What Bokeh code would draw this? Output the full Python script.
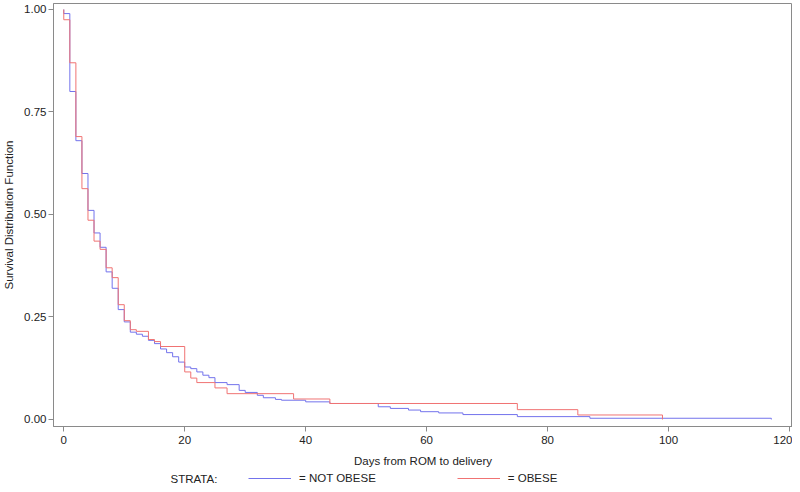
from bokeh.plotting import figure
from bokeh.layouts import column
from bokeh.models import Range1d, Legend, LegendItem, FixedTicker, PrintfTickFormatter, Label
from bokeh.embed import file_html
from bokeh.resources import INLINE

# Kaplan-Meier estimates
not_obese_days = [0, 0, 1, 2, 3, 4, 5, 6, 7, 8, 9, 10, 11, 12, 13, 14, 15, 16, 17, 18, 19,
                  20, 21, 22, 23, 24, 25, 27, 29, 30, 32, 33, 35, 36, 40, 44, 52, 54, 57,
                  59, 62, 66, 75, 87, 117]
not_obese_surv = [1.0, 0.99, 0.80, 0.68, 0.60, 0.51, 0.455, 0.42, 0.36, 0.32, 0.268, 0.238,
                  0.213, 0.208, 0.203, 0.193, 0.185, 0.172, 0.163, 0.153, 0.14,
                  0.128, 0.124, 0.116, 0.108, 0.102, 0.09, 0.085, 0.071, 0.066, 0.059,
                  0.053, 0.049, 0.047, 0.043, 0.039, 0.031, 0.027, 0.023,
                  0.019, 0.016, 0.012, 0.007, 0.003, 0.0]

obese_days = [0, 0, 1, 2, 3, 4, 5, 6, 7, 8, 9, 10, 11, 12, 14, 15, 16, 20, 21, 22, 25, 27,
              38, 44, 75, 85, 99]
obese_surv = [1.0, 0.975, 0.87, 0.69, 0.563, 0.486, 0.435, 0.415, 0.37, 0.346, 0.28, 0.241,
              0.219, 0.215, 0.195, 0.19, 0.178, 0.116, 0.101, 0.09, 0.077, 0.063,
              0.05, 0.039, 0.024, 0.011, 0.0]

x_ticks = [0, 20, 40, 60, 80, 100, 120]
y_ticks = [0.0, 0.25, 0.5, 0.75, 1.0]

strata_labels = ["= NOT OBESE", "= OBESE"]
legend_title = "STRATA:"
x_title = "Days from ROM to delivery"
y_title = "Survival Distribution Function"

BLUE = "#7373ec"
RED = "#f07373"
FONT = "Liberation Sans"
FS = "11.5px"
TXT = "#222222"
GREY = "#8a8a8a"

p = figure(width=792, height=472, output_backend="svg", toolbar_location=None,
           x_range=Range1d(-1.7, 120.5), y_range=Range1d(-0.0171, 1.0146),
           min_border_top=3, min_border_right=0, min_border_left=0, min_border_bottom=46)
p.background_fill_color = "white"
p.border_fill_color = "white"
p.grid.visible = False
p.outline_line_color = GREY
p.outline_line_width = 1

r_blue = p.step(not_obese_days, not_obese_surv, mode="after", line_color=BLUE, line_width=1)
r_red = p.step(obese_days, obese_surv, mode="after", line_color=RED, line_width=1)

for ax in (p.xaxis[0], p.yaxis[0]):
    ax.axis_line_color = GREY
    ax.major_tick_line_color = GREY
    ax.minor_tick_line_color = None
    ax.major_tick_out = 5
    ax.major_tick_in = 0
    ax.major_label_text_font = FONT
    ax.major_label_text_font_size = FS
    ax.major_label_text_color = TXT
    ax.axis_label_text_font = FONT
    ax.axis_label_text_font_size = FS
    ax.axis_label_text_font_style = "normal"
    ax.axis_label_text_color = TXT

p.xaxis.ticker = FixedTicker(ticks=x_ticks)
p.yaxis.ticker = FixedTicker(ticks=y_ticks)
p.yaxis.formatter = PrintfTickFormatter(format="%.2f")
p.xaxis.axis_label = x_title
p.yaxis.axis_label = y_title
p.xaxis.major_label_standoff = 4
p.xaxis.axis_label_standoff = 8
p.yaxis.major_label_standoff = 2
p.yaxis.axis_label_standoff = 6

# legend strip below the plot (key renderers reuse the series but sit outside its view)
lg = figure(width=792, height=12, output_backend="svg", toolbar_location=None,
            x_range=Range1d(0, 1), y_range=Range1d(2, 3),
            min_border=0)
lg.axis.visible = False
lg.grid.visible = False
lg.outline_line_color = None
lg.background_fill_color = "white"
lg.border_fill_color = "white"
k_blue = lg.line(not_obese_days, not_obese_surv, line_color=BLUE, line_width=1)
k_red = lg.line(obese_days, obese_surv, line_color=RED, line_width=1)

lg.add_layout(Label(x=117, y=6, x_units="screen", y_units="screen", text=legend_title,
                    text_font=FONT, text_font_size=FS, text_color=TXT,
                    text_baseline="middle", text_align="left"))

legend = Legend(items=[LegendItem(label=strata_labels[0], renderers=[k_blue]),
                       LegendItem(label=strata_labels[1], renderers=[k_red])],
                orientation="horizontal", location=(195, 0))
legend.label_text_font = FONT
legend.label_text_font_size = FS
legend.label_text_color = TXT
legend.label_height = 12
legend.glyph_width = 43
legend.glyph_height = 12
legend.label_standoff = 8
legend.spacing = 81
legend.padding = 0
legend.margin = 0
legend.border_line_alpha = 0
legend.background_fill_alpha = 0
lg.add_layout(legend, "center")

layout = column(p, lg, spacing=0)
open("out.html", "w").write(file_html(layout, INLINE))
